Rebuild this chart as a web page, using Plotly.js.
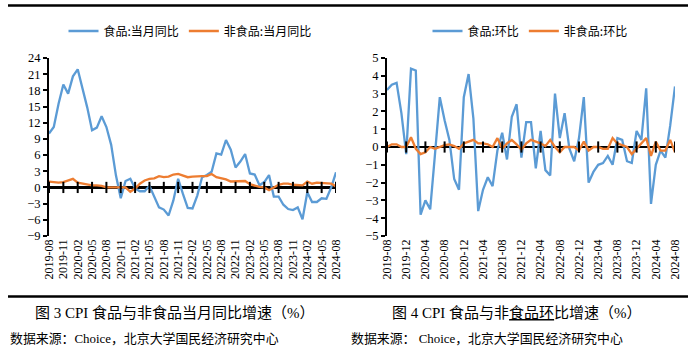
<!DOCTYPE html>
<html>
<head>
<meta charset="utf-8">
<script src="https://cdn.plot.ly/plotly-3.0.1.min.js"></script>
<style>
html,body{margin:0;padding:0;background:#fff;}
#chart{width:695px;height:350px;}
</style>
</head>
<body>
<div id="chart"></div>
<script>
const months = ['2019-08','2019-09','2019-10','2019-11','2019-12',
'2020-01','2020-02','2020-03','2020-04','2020-05','2020-06','2020-07','2020-08','2020-09','2020-10','2020-11','2020-12',
'2021-01','2021-02','2021-03','2021-04','2021-05','2021-06','2021-07','2021-08','2021-09','2021-10','2021-11','2021-12',
'2022-01','2022-02','2022-03','2022-04','2022-05','2022-06','2022-07','2022-08','2022-09','2022-10','2022-11','2022-12',
'2023-01','2023-02','2023-03','2023-04','2023-05','2023-06','2023-07','2023-08','2023-09','2023-10','2023-11','2023-12',
'2024-01','2024-02','2024-03','2024-04','2024-05','2024-06','2024-07','2024-08'];

// Figure 3: year-on-year (%)
const foodYoY = [10.0,11.2,15.5,19.1,17.4,
20.6,21.9,18.3,14.8,10.6,11.1,13.2,11.2,7.9,2.2,-2.0,1.2,
1.6,-0.2,-0.7,-0.7,0.3,-1.7,-3.7,-4.1,-5.2,-2.4,1.6,-1.2,
-3.8,-3.9,-1.5,1.9,2.3,2.9,6.3,6.1,8.8,7.0,3.7,4.8,
6.2,2.6,2.4,0.4,1.0,2.3,-1.7,-1.7,-3.2,-4.0,-4.2,-3.7,
-5.9,-0.9,-2.7,-2.7,-2.0,-2.1,0.0,2.8];
const nonFoodYoY = [1.1,1.0,0.9,1.0,1.3,
1.6,0.9,0.7,0.6,0.4,0.4,0.3,0.0,0.0,0.0,0.0,0.0,
-0.8,-0.2,0.7,1.3,1.6,1.7,2.1,1.9,2.0,2.4,2.5,2.2,
1.9,2.0,2.1,2.1,2.1,2.5,1.9,1.7,1.5,1.1,1.1,1.1,
1.2,0.6,0.3,0.1,0.0,-0.5,0.0,0.5,0.7,0.7,0.5,0.5,
0.4,1.1,0.7,0.9,0.8,0.8,0.7,0.2];

// Figure 4: month-on-month (%)
const foodMoM = [3.2,3.5,3.6,1.9,-0.4,
4.4,4.3,-3.8,-3.0,-3.5,-0.4,2.8,1.5,0.4,-1.8,-2.4,2.8,
4.1,1.6,-3.6,-2.4,-1.7,-2.2,-0.2,0.8,-0.7,1.7,2.4,-0.6,
1.4,1.4,-1.2,0.9,-1.3,-1.6,3.0,0.5,1.9,-0.1,-0.8,0.5,
2.8,-2.0,-1.4,-1.0,-0.9,-0.5,-1.0,0.5,0.4,-0.8,-0.9,0.9,
0.4,3.3,-3.2,-1.0,-0.2,-0.6,1.2,3.4];
const nonFoodMoM = [0.0,0.15,0.15,0.0,0.0,
0.55,-0.1,-0.4,-0.3,0.0,-0.1,0.0,0.1,0.15,0.05,-0.1,0.2,
0.3,0.4,0.2,0.2,0.15,0.0,0.5,-0.1,0.2,0.4,0.15,-0.15,
0.2,0.4,0.3,0.2,0.05,0.4,0.0,-0.3,0.0,0.0,0.0,-0.2,
0.3,-0.2,0.0,0.0,-0.1,-0.1,0.5,0.2,0.1,0.0,-0.4,-0.1,
0.2,0.5,-0.5,0.3,-0.2,-0.2,0.4,-0.3];

const ticksLeft = ['2019-08','2019-11','2020-02','2020-05','2020-08','2020-11','2021-02','2021-05','2021-08','2021-11',
'2022-02','2022-05','2022-08','2022-11','2023-02','2023-05','2023-08','2023-11','2024-02','2024-05','2024-08'];
const ticksRight = ['2019-08','2019-12','2020-04','2020-08','2020-12','2021-04','2021-08','2021-12',
'2022-04','2022-08','2022-12','2023-04','2023-08','2023-12','2024-04','2024-08'];

const seriesNames = ['食品:当月同比','非食品:当月同比','食品:环比','非食品:环比'];
const captions = ['图 3 CPI 食品与非食品当月同比增速（%）',
  '图 4 CPI 食品与非<span style="text-decoration:underline;text-decoration-color:#3a66c4">食品环</span>比增速（%）'];
const sources = ['数据来源：Choice，北京大学国民经济研究中心','数据来源： Choice，北京大学国民经济研究中心'];

const BLUE = '#5B9BD5', ORANGE = '#ED7D31';
const serif = 'Liberation Serif, Times New Roman, serif';
const cjk = 'Noto Sans CJK SC, sans-serif';
const capFont = 'Liberation Serif, Noto Sans CJK SC, serif';

function crossTicks(ticks, xa, ya){
  return {x: ticks, y: ticks.map(()=>0), xaxis: xa, yaxis: ya, type:'scatter', mode:'markers',
    marker:{symbol:'line-ns', size:8, line:{width:2, color:'#000'}, color:'#000'},
    showlegend:false, hoverinfo:'skip'};
}

const traces = [
  {x: months, y: foodYoY, name: seriesNames[0], type:'scatter', mode:'lines', line:{color:BLUE, width:2.3}, xaxis:'x', yaxis:'y', legend:'legend'},
  {x: months, y: nonFoodYoY, name: seriesNames[1], type:'scatter', mode:'lines', line:{color:ORANGE, width:2.3}, xaxis:'x', yaxis:'y', legend:'legend'},
  {x: months, y: foodMoM, name: seriesNames[2], type:'scatter', mode:'lines', line:{color:BLUE, width:2.3}, xaxis:'x2', yaxis:'y2', legend:'legend2'},
  {x: months, y: nonFoodMoM, name: seriesNames[3], type:'scatter', mode:'lines', line:{color:ORANGE, width:2.3}, xaxis:'x2', yaxis:'y2', legend:'legend2'},
  crossTicks(ticksLeft,'x','y'),
  crossTicks(ticksRight,'x2','y2')
];

const xBase = {type:'category', categoryorder:'array', categoryarray:months, range:[0,60], showgrid:false, zeroline:false, showline:false, ticks:'',
  tickangle:-90, tickfont:{family:serif, size:12, color:'#000'}, fixedrange:true};
const yBase = {showgrid:false, zeroline:true, zerolinecolor:'#000', zerolinewidth:2.2, showline:true, linecolor:'#000', linewidth:2,
  ticks:'outside', ticklen:4, tickwidth:2, tickcolor:'#000', tickfont:{family:serif, size:12.5, color:'#000'}, fixedrange:true};

const yDom = [1-236/350, 1-58/350];

const layout = {
  width:695, height:350, margin:{l:0,r:0,t:0,b:0}, paper_bgcolor:'#fff', plot_bgcolor:'rgba(0,0,0,0)',
  xaxis: Object.assign({}, xBase, {domain:[49/695, 336/695], anchor:'y', tickvals:ticksLeft, ticktext:ticksLeft}),
  yaxis: Object.assign({}, yBase, {domain:yDom, anchor:'x', range:[-9,24], dtick:3, tick0:0}),
  xaxis2: Object.assign({}, xBase, {domain:[387/695, 675/695], anchor:'y2', tickvals:ticksRight, ticktext:ticksRight}),
  yaxis2: Object.assign({}, yBase, {domain:yDom, anchor:'x2', range:[-5,5], dtick:1, tick0:0}),
  legend: {orientation:'h', x:190/695, xanchor:'center', y:1-31/350, yanchor:'middle', font:{family:cjk, size:12, color:'#000'}, itemwidth:30, bgcolor:'rgba(0,0,0,0)'},
  legend2: {orientation:'h', x:530/695, xanchor:'center', y:1-31/350, yanchor:'middle', font:{family:cjk, size:12, color:'#000'}, itemwidth:30, bgcolor:'rgba(0,0,0,0)'},
  shapes: [
    {type:'line', xref:'paper', yref:'paper', x0:8/695, x1:688/695, y0:1-5.5/350, y1:1-5.5/350, line:{color:'#000', width:2.5}},
    {type:'line', xref:'paper', yref:'paper', x0:8/695, x1:688/695, y0:1-296.5/350, y1:1-296.5/350, line:{color:'#000', width:2.5}}
  ],
  annotations: [
    {xref:'paper', yref:'paper', x:175/695, y:1-313/350, xanchor:'center', yanchor:'middle', showarrow:false, text:captions[0], font:{family:capFont, size:15, color:'#000'}},
    {xref:'paper', yref:'paper', x:517/695, y:1-313/350, xanchor:'center', yanchor:'middle', showarrow:false, text:captions[1], font:{family:capFont, size:15, color:'#000'}},
    {xref:'paper', yref:'paper', x:8/695, y:1-338/350, xanchor:'left', yanchor:'middle', showarrow:false, text:sources[0], font:{family:capFont, size:12.9, color:'#000'}},
    {xref:'paper', yref:'paper', x:349/695, y:1-338/350, xanchor:'left', yanchor:'middle', showarrow:false, text:sources[1], font:{family:capFont, size:12.9, color:'#000'}}
  ]
};

Plotly.newPlot('chart', traces, layout, {staticPlot:true, displayModeBar:false});
</script>
</body>
</html>
